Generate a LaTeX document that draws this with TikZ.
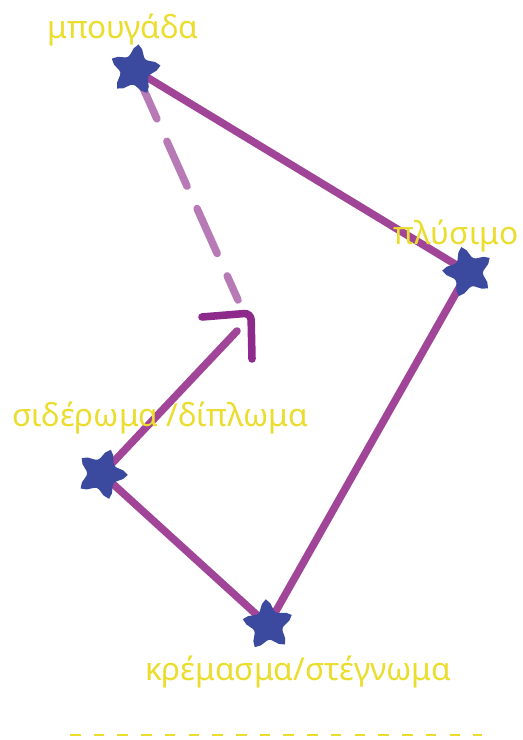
\documentclass[tikz,border=0pt]{standalone}
\usepackage{fontspec}
\setmainfont{Noto Sans}
\usepackage{tikz}
\usetikzlibrary{shapes.geometric,backgrounds}
\definecolor{lineviolet}{HTML}{A04598}
\definecolor{dashviolet}{HTML}{B87AB6}
\definecolor{tipviolet}{HTML}{8E2A8C}
\definecolor{starblue}{HTML}{3B4A9E}
\definecolor{penyellow}{HTML}{EBDD2E}
\tikzset{
  stepstar/.style={star,star points=5,star point ratio=2.3,fill=starblue,draw=starblue,
    line width=3.5pt,rounded corners=2.5pt,minimum size=0.95cm,inner sep=0pt},
  label/.style={text=penyellow,font=\fontsize{18}{20}\selectfont},
  cycleline/.style={draw=lineviolet,line width=4.3pt,line cap=round},
}

\begin{document}
\begin{tikzpicture}[x=0.02cm,y=-0.02cm]
  \useasboundingbox (0,0) rectangle (523,740);
  % stars
  \node[stepstar,rotate=-8] (wash) at (135,70) {};
  \node[stepstar,rotate=15] (rinse) at (468,272) {};
  \node[stepstar,rotate=-20] (iron) at (102,474) {};
  \node[stepstar,rotate=5] (hang) at (268,625) {};
  % labels
  \node[label] at (123,30) {μπουγάδα};
  \node[label] at (456,236) {πλύσιμο};
  \node[label] at (160,418) {σιδέρωμα /δίπλωμα};
  \node[label] at (298,672) {κρέμασμα/στέγνωμα};
  % connectors
  \coordinate (tip) at (237,331);
  \coordinate (back) at (238,300);
  \begin{pgfonlayer}{background}
    \draw[cycleline] (wash.center) -- (rinse.center);
    \draw[cycleline] (rinse.center) -- (hang.center);
    \draw[cycleline] (hang.center) -- (iron.center);
    \draw[cycleline] (iron.center) -- (tip);
    \draw[cycleline,draw=dashviolet,dash pattern=on 28pt off 14pt,dash phase=13pt] (back) -- (wash.center);
  \end{pgfonlayer}
  % arrow head
  \draw[line width=4.3pt,draw=tipviolet,line cap=round,rounded corners=4pt]
    (202,317) -- (251,313) -- (252,359);
  % baseline
  \draw[penyellow,line width=1.6pt,dash pattern=on 6pt off 7.5pt] (70,735) -- (482,735);
\end{tikzpicture}
\end{document}
